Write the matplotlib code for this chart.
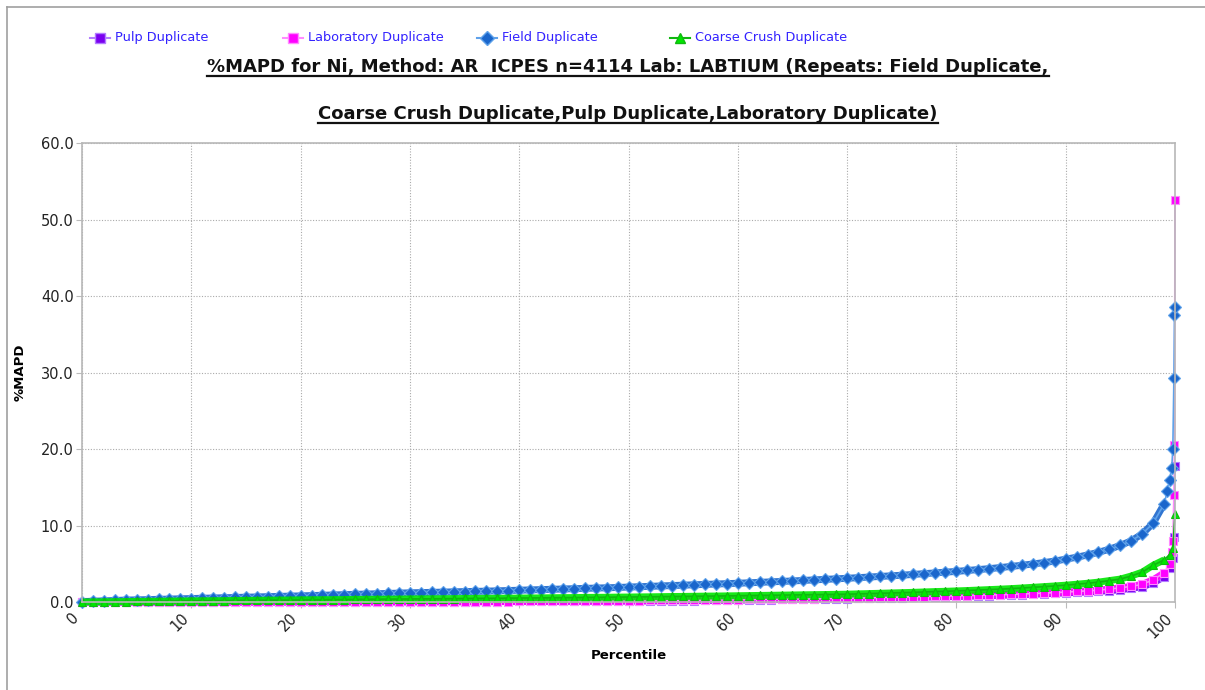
import matplotlib.pyplot as plt
from matplotlib.lines import Line2D

# percentile positions (0..99 step 1), plus a separate tail for each series
pct = list(range(0, 100))

field = [0.05, 0.10, 0.15, 0.20, 0.25, 0.28, 0.31, 0.35, 0.38, 0.42,
         0.45, 0.49, 0.52, 0.56, 0.59, 0.63, 0.66, 0.70, 0.73, 0.77,
         0.80, 0.84, 0.88, 0.92, 0.96, 1.00, 1.04, 1.08, 1.12, 1.16,
         1.20, 1.23, 1.26, 1.29, 1.33, 1.36, 1.39, 1.42, 1.46, 1.50,
         1.54, 1.58, 1.62, 1.66, 1.70, 1.74, 1.78, 1.82, 1.86, 1.90,
         1.95, 2.00, 2.05, 2.10, 2.15, 2.20, 2.25, 2.30, 2.35, 2.40,
         2.45, 2.51, 2.57, 2.63, 2.69, 2.75, 2.82, 2.89, 2.96, 3.03,
         3.10, 3.18, 3.26, 3.34, 3.42, 3.50, 3.60, 3.70, 3.80, 3.90,
         4.00, 4.12, 4.24, 4.36, 4.50, 4.65, 4.80, 4.97, 5.15, 5.35,
         5.60, 5.85, 6.15, 6.50, 6.90, 7.40, 8.00, 8.90, 10.3, 12.8]
field_tail_x = [99.3, 99.5, 99.7, 99.8, 99.9, 99.95, 100]
field_tail_y = [14.5, 16.0, 17.5, 20.0, 29.3, 37.5, 38.5]

coarse = [0.00, 0.02, 0.03, 0.05, 0.06, 0.08, 0.09, 0.10, 0.12, 0.13,
          0.15, 0.16, 0.17, 0.18, 0.20, 0.21, 0.22, 0.24, 0.25, 0.26,
          0.28, 0.29, 0.30, 0.31, 0.32, 0.34, 0.35, 0.36, 0.37, 0.38,
          0.40, 0.41, 0.42, 0.43, 0.44, 0.46, 0.47, 0.48, 0.49, 0.50,
          0.52, 0.53, 0.54, 0.56, 0.57, 0.58, 0.60, 0.61, 0.62, 0.64,
          0.65, 0.67, 0.68, 0.70, 0.72, 0.73, 0.75, 0.77, 0.78, 0.80,
          0.82, 0.84, 0.86, 0.88, 0.90, 0.92, 0.94, 0.96, 0.98, 1.00,
          1.02, 1.06, 1.10, 1.14, 1.18, 1.22, 1.26, 1.31, 1.36, 1.40,
          1.45, 1.50, 1.56, 1.62, 1.68, 1.75, 1.83, 1.92, 2.01, 2.10,
          2.20, 2.32, 2.45, 2.60, 2.80, 3.00, 3.40, 3.90, 4.80, 5.50]
coarse_tail_x = [99.5, 99.8, 100]
coarse_tail_y = [6.2, 7.0, 11.5]

lab = [0.00, 0.00, 0.00, 0.00, 0.00, 0.00, 0.00, 0.00, 0.00, 0.00,
       0.00, 0.00, 0.00, 0.00, 0.00, 0.00, 0.00, 0.01, 0.01, 0.01,
       0.01, 0.01, 0.01, 0.02, 0.02, 0.02, 0.02, 0.02, 0.03, 0.03,
       0.03, 0.03, 0.04, 0.04, 0.04, 0.05, 0.05, 0.05, 0.06, 0.06,
       0.07, 0.07, 0.08, 0.09, 0.10, 0.11, 0.12, 0.14, 0.15, 0.16,
       0.18, 0.19, 0.20, 0.21, 0.22, 0.24, 0.25, 0.27, 0.28, 0.30,
       0.32, 0.33, 0.35, 0.37, 0.38, 0.40, 0.42, 0.44, 0.46, 0.48,
       0.50, 0.53, 0.56, 0.59, 0.62, 0.65, 0.68, 0.71, 0.74, 0.77,
       0.80, 0.84, 0.88, 0.92, 0.96, 1.00, 1.05, 1.11, 1.17, 1.23,
       1.30, 1.38, 1.46, 1.55, 1.70, 1.85, 2.05, 2.30, 2.90, 3.80]
lab_tail_x = [99.5, 99.7, 99.8, 99.9, 99.95, 100]
lab_tail_y = [5.0, 6.5, 8.0, 14.0, 20.5, 52.5]

pulp = [0.00, 0.00, 0.00, 0.00, 0.00, 0.00, 0.00, 0.00, 0.00, 0.00,
        0.00, 0.00, 0.00, 0.00, 0.00, 0.00, 0.00, 0.00, 0.00, 0.00,
        0.01, 0.01, 0.01, 0.01, 0.01, 0.01, 0.02, 0.02, 0.02, 0.02,
        0.03, 0.03, 0.03, 0.04, 0.04, 0.04, 0.05, 0.05, 0.06, 0.07,
        0.08, 0.08, 0.09, 0.09, 0.10, 0.10, 0.11, 0.11, 0.12, 0.12,
        0.12, 0.13, 0.14, 0.15, 0.16, 0.18, 0.19, 0.21, 0.22, 0.24,
        0.25, 0.27, 0.29, 0.31, 0.33, 0.35, 0.37, 0.39, 0.41, 0.43,
        0.45, 0.48, 0.50, 0.53, 0.55, 0.58, 0.61, 0.64, 0.67, 0.70,
        0.72, 0.76, 0.80, 0.84, 0.88, 0.92, 0.97, 1.02, 1.08, 1.14,
        1.20, 1.26, 1.32, 1.40, 1.50, 1.60, 1.80, 2.00, 2.50, 3.30]
pulp_tail_x = [99.5, 99.8, 99.9, 100]
pulp_tail_y = [4.5, 5.8, 8.5, 17.8]

series = [
    ('Pulp Duplicate', pulp, pulp_tail_x, pulp_tail_y, 's', '#7a00f0', '#b27cff', 5.5),
    ('Laboratory Duplicate', lab, lab_tail_x, lab_tail_y, 's', '#ff00ff', '#ff8cff', 5.5),
    ('Field Duplicate', field, field_tail_x, field_tail_y, 'D', '#1a66cc', '#5fa2ea', 6),
    ('Coarse Crush Duplicate', coarse, coarse_tail_x, coarse_tail_y, '^', '#00e600', '#10b810', 6),
]

fig = plt.figure(figsize=(12.05, 6.9), dpi=100)
ax = fig.add_axes([82 / 1205, 1 - 602 / 690, (1175 - 82) / 1205, (602 - 143) / 690])

for name, vals, tx, ty, mk, face, edge, ms in series:
    # thick band under the body so the dense markers read as one band, as in the original
    ax.plot(pct, vals, color=face, lw=5, solid_capstyle='butt', clip_on=False, alpha=0.9)
    ax.plot(pct + tx, vals + ty, color=edge, lw=1.2, marker=mk, ms=ms,
            mfc=face, mec=edge, mew=0.8, clip_on=False)

ax.set_xlim(0, 100)
ax.set_ylim(0, 60)
ax.set_xticks(range(0, 101, 10))
ax.set_yticks(range(0, 61, 10))
ax.set_yticklabels([f'{v:.1f}' for v in range(0, 61, 10)], fontsize=10.5, color='#222222')
ax.set_xticklabels([str(v) for v in range(0, 101, 10)], fontsize=10.5, color='#222222',
                   rotation=45, ha='right', va='top')
ax.tick_params(length=4, color='#bbbbbb', pad=2)
ax.grid(True, color='#aaaaaa', ls=(0, (1, 1.5)), lw=0.8)
for s in ax.spines.values():
    s.set_color('#b8b8b8')
    s.set_linewidth(1.2)

ax.set_xlabel('Percentile', fontsize=9.5, fontweight='bold', labelpad=6)
ax.set_ylabel('%MAPD', fontsize=9.5, fontweight='bold', labelpad=10)

# outer frame of the chart panel (left and top edges)
fig.add_artist(Line2D([7 / 1205, 7 / 1205], [0, 1 - 7 / 690], color='#a0a0a0', lw=1.2))
fig.add_artist(Line2D([7 / 1205, 1], [1 - 7 / 690, 1 - 7 / 690], color='#a0a0a0', lw=1.2))

# legend row across the top
leg_x = [90, 283, 477, 670]
for (name, vals, tx, ty, mk, face, edge, ms), lx in zip(series, leg_x):
    y = 1 - 38 / 690
    fig.add_artist(Line2D([lx / 1205, (lx + 20) / 1205], [y, y], color=edge, lw=1.5))
    fig.add_artist(Line2D([(lx + 10) / 1205], [y], marker=mk, ms=ms + 1,
                          mfc=face, mec=edge, lw=0))
    fig.text((lx + 25) / 1205, y, name, fontsize=9.3, color='#3322ff', va='center', ha='left')

# two-line underlined title
title_lines = ['%MAPD for Ni, Method: AR  ICPES n=4114 Lab: LABTIUM (Repeats: Field Duplicate,',
               'Coarse Crush Duplicate,Pulp Duplicate,Laboratory Duplicate)']
title_base = [72, 119]
texts = []
for line, yb in zip(title_lines, title_base):
    texts.append(fig.text(628 / 1205, 1 - yb / 690, line, fontsize=13, fontweight='bold',
                          ha='center', va='baseline', color='#111111'))

fig.canvas.draw()
r = fig.canvas.get_renderer()
for t, yb in zip(texts, title_base):
    bb = t.get_window_extent(r)
    uy = 1 - (yb + 4) / 690
    fig.add_artist(Line2D([bb.x0 / 1205, bb.x1 / 1205], [uy, uy], color='#111111', lw=1.6))

fig.savefig('out.png', dpi=100)
